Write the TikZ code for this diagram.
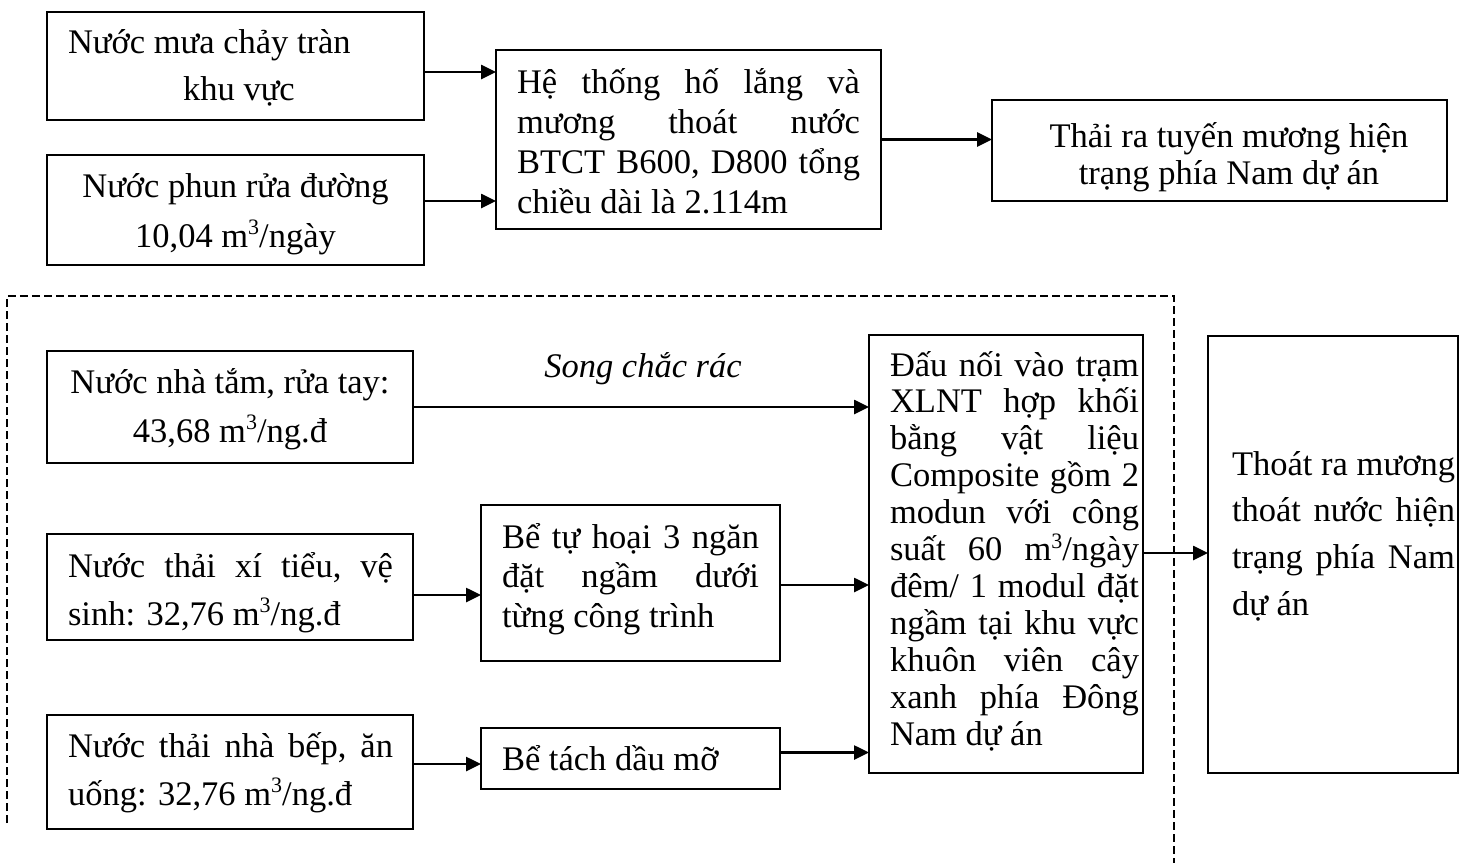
\documentclass[tikz,border=0pt]{standalone}
\usepackage{fontspec}
\setmainfont{Liberation Serif}
\usetikzlibrary{arrows.meta}
\newcommand{\lineJ}[1]{\hbox to \hsize{#1}}
\newcommand{\lineC}[1]{\hbox to \hsize{\hfil#1\hfil}}
\newcommand{\lineL}[1]{\hbox to \hsize{#1\hfil}}
\newcommand{\cubed}{\raisebox{0.36em}{\fontsize{22pt}{22pt}\selectfont 3}}
\newcommand{\btext}[6]{\makebox[#1pt][l]{\hspace*{#2pt}\raisebox{#3pt}{\parbox[t]{#4pt}{\fontsize{34.5pt}{#5pt}\selectfont #6}}}}
\tikzset{
  box/.style={draw, line width=2pt, inner sep=0pt, outer sep=0pt, text height=0pt, text depth=0pt},
  arr/.style={line width=2.6pt, -{Triangle[length=15pt,width=14pt]}},
  dashframe/.style={line width=1.5pt, dash pattern=on 8pt off 4pt},
}
\begin{document}
\begin{tikzpicture}[x=1pt,y=-1pt]
\useasboundingbox (0,0) rectangle (1469,863);
% top group
\node[box, minimum width=377pt, minimum height=108pt] (A) at (235.5,66)
  {\btext{377}{21}{13}{342}{47}{\lineL{Nước mưa chảy tràn}\lineC{khu vực}}};
\node[box, minimum width=377pt, minimum height=110pt] (B) at (235.5,210)
  {\btext{377}{21}{13}{335}{50}{\lineC{Nước phun rửa đường}\lineC{10,04 m\cubed/ngày}}};
\node[box, minimum width=385pt, minimum height=179pt] (C) at (688.5,139.5)
  {\btext{385}{21}{46.5}{343}{40}{\lineJ{Hệ\hfill thống\hfill hố\hfill lắng\hfill và}\lineJ{mương\hfill thoát\hfill nước}\lineJ{BTCT\hfill B600,\hfill D800\hfill tổng}\lineL{chiều dài là 2.114m}}};
\node[box, minimum width=455pt, minimum height=101pt] (D) at (1219.5,150.5)
  {\btext{455}{37}{3.5}{400}{37}{\lineC{Thải ra tuyến mương hiện}\lineC{trạng phía Nam dự án}}};
\draw[arr] ([yshift=-6pt]A.east) -- ([yshift=-6pt]A.east -| C.west);
\draw[arr] ([yshift=9pt]B.east) -- ([yshift=9pt]B.east -| C.west);
\draw[arr] (C.east) -- (C.east -| D.west);
% bottom group
\draw[dashframe] (7,823) -- (7,296) -- (1174,296) -- (1174,863);
\node[box, minimum width=366pt, minimum height=112pt] (E) at (230,407)
  {\btext{366}{21}{14}{324}{49}{\lineC{Nước nhà tắm, rửa tay:}\lineC{43,68 m\cubed/ng.đ}}};
\node[box, minimum width=366pt, minimum height=106pt] (F) at (230,587)
  {\btext{366}{21}{10}{325}{48}{\lineJ{Nước\hfill thải\hfill xí\hfill tiểu,\hfill vệ}\lineL{sinh: 32,76 m\cubed/ng.đ}}};
\node[box, minimum width=366pt, minimum height=114pt] (G) at (230,772)
  {\btext{366}{21}{15}{325}{48}{\lineJ{Nước\hfill thải\hfill nhà\hfill bếp,\hfill ăn}\lineL{uống: 32,76 m\cubed/ng.đ}}};
\node[box, minimum width=299pt, minimum height=156pt] (H) at (630.5,583)
  {\btext{299}{21}{35}{257}{39.5}{\lineJ{Bể\hfill tự\hfill hoại\hfill 3\hfill ngăn}\lineJ{đặt\hfill ngầm\hfill dưới}\lineL{từng công trình}}};
\node[box, minimum width=299pt, minimum height=61pt] (I) at (630.5,758.5)
  {\btext{299}{21}{-11.5}{257}{36}{\lineL{Bể tách dầu mỡ}}};
\node[box, minimum width=274pt, minimum height=438pt] (J) at (1006,554)
  {\btext{274}{21}{178}{249}{36.9}{%
   \lineJ{Đấu\hfill nối\hfill vào\hfill trạm}%
   \lineJ{XLNT\hfill hợp\hfill khối}%
   \lineJ{bằng\hfill vật\hfill liệu}%
   \lineJ{Composite\hfill gồm\hfill 2}%
   \lineJ{modun\hfill với\hfill công}%
   \lineJ{suất\hfill 60\hfill m\cubed/ngày}%
   \lineJ{đêm/\hfill 1\hfill modul\hfill đặt}%
   \lineJ{ngầm\hfill tại\hfill khu\hfill vực}%
   \lineJ{khuôn\hfill viên\hfill cây}%
   \lineJ{xanh\hfill phía\hfill Đông}%
   \lineL{Nam dự án}}};
\node[box, minimum width=250pt, minimum height=437pt] (K) at (1333,554.5)
  {\btext{250}{24}{79.5}{223}{46.7}{%
   \lineJ{Thoát\hfill ra\hfill mương}%
   \lineJ{thoát\hfill nước\hfill hiện}%
   \lineJ{trạng\hfill phía\hfill Nam}%
   \lineL{dự án}}};
\node[anchor=base, inner sep=0pt, font=\fontsize{34.5pt}{37pt}\selectfont\itshape] (lbl) at (643,377) {Song chắc rác};
\draw[arr] (E.east) -- (E.east -| J.west);
\draw[arr] ([yshift=-8pt]F.east) -- ([yshift=-8pt]F.east -| H.west);
\draw[arr] ([yshift=-2pt]H.east) -- ([yshift=-2pt]H.east -| J.west);
\draw[arr] ([yshift=8pt]G.east) -- ([yshift=8pt]G.east -| I.west);
\draw[arr] ([yshift=6pt]I.east) -- ([yshift=6pt]I.east -| J.west);
\draw[arr] ([yshift=1pt]J.east) -- ([yshift=1pt]J.east -| K.west);
\end{tikzpicture}
\end{document}
